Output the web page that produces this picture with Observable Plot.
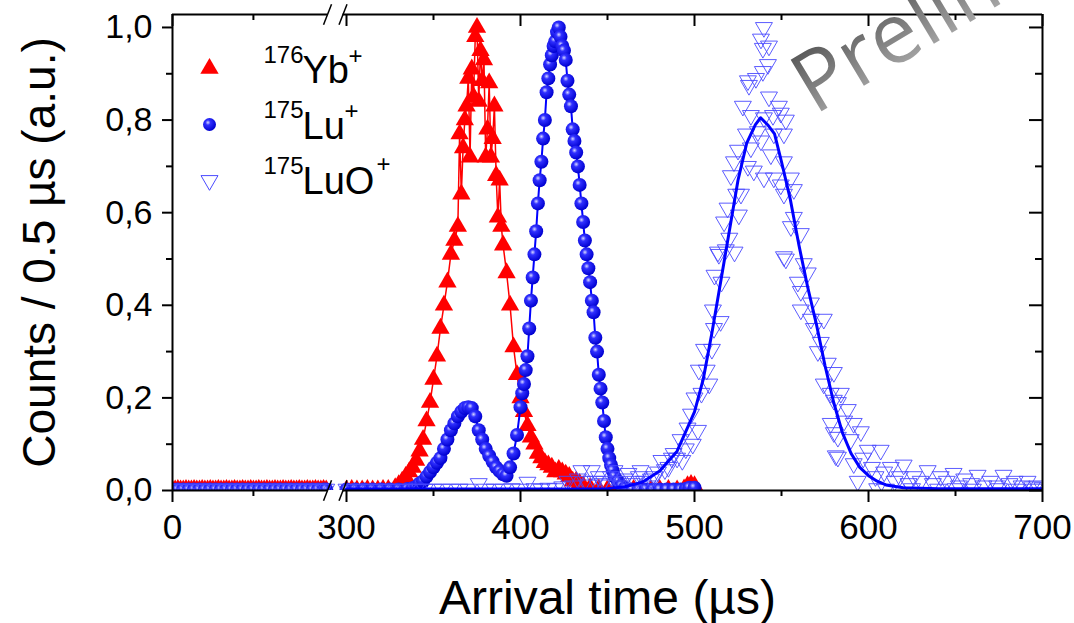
<!DOCTYPE html>
<html><head><meta charset="utf-8">
<script src="https://cdn.jsdelivr.net/npm/d3@7"></script>
<script src="https://cdn.jsdelivr.net/npm/@observablehq/plot@0.6"></script>
<style>
html,body{margin:0;padding:0;background:#fff;}
#chart{position:relative;width:1074px;height:623px;overflow:hidden;}
</style></head><body><div id="chart"></div>
<script>
// ---- data: [arrival time (µs), counts (a.u.)] ----
const ybData = [
 [0,.001],[5,.001],[10,.002],[15,.001],[20,.001],[25,.002],[30,.001],[35,.001],[40,.002],[45,.001],[50,.001],[55,.002],[60,.001],[65,.001],[70,.002],[75,.001],[80,.001],[85,.002],[90,.001],[95,.001],[100,.002],[105,.001],[110,.001],[115,.002],[120,.001],[125,.001],[130,.002],[135,.001],[140,.001],[145,.002],[150,.001],[155,.001],[160,.002],[165,.001],[170,.001],[175,.002],[180,.001],[185,.001],[190,.002],[195,.001],[200,.001],[205,.002],[210,.001],[215,.001],[220,.002],[225,.001],[230,.001],[235,.002],[240,.001],[245,.001],[250,.002],[255,.001],[260,.001],[265,.002],[270,.001],[275,.001],[280,.002],[285,.001],
 [300,.001],[303,.002],[306,.001],[309,.001],[312,.002],[315,.001],[318,.001],[321,.002],[324,.002],[328,.006],[330,.012],[332,.02],[334,.03],[336,.04],[338,.05],[340,.065],[342,.085],[344,.11],[346,.15],[348,.19],[350,.24],[352,.29],[354,.35],[356,.40],[358,.45],[360,.51],[362,.54],[364,.57],[365,.77],[366,.64],[367,.74],[368,.80],[369,.83],[370,.89],[371,.72],[372,.91],[373,.85],[374,.98],[375,1.0],[376,.84],[377,.95],[378,.885],[379,.93],[380,.72],[381,.78],[382,.88],[383,.72],[384,.76],[385,.83],[386,.68],[387,.59],[388,.67],[389,.57],[390,.53],[392,.47],[394,.40],[396,.31],[398,.25],[400,.20],[402,.17],[404,.14],[406,.115],[408,.10],[410,.08],[412,.07],[414,.06],[416,.055],[418,.05],[420,.04],[422,.045],[424,.04],[426,.035],[428,.03],[430,.02],[432,.02],[434,.015],[436,.01],[440,.006],[445,.003],[450,.002],[455,.002],[460,.001],[465,.002],[470,.002],[475,.001],[480,.002],[485,.002],[490,.001],[494,.003],[496,.01],[498,.013],[500,.01]
];
const luData = [
 [0,.002],[10,.002],[20,.002],[30,.002],[40,.002],[50,.002],[60,.002],[70,.002],[80,.002],[90,.002],[100,.002],[110,.002],[120,.002],[130,.002],[140,.002],[150,.002],[160,.002],[170,.002],[180,.002],[190,.002],[200,.002],[210,.002],[220,.002],[230,.002],[240,.002],[250,.002],[260,.002],[270,.002],[280,.002],[285,.002],
 [300,.002],[305,.002],[310,.002],[315,.002],[320,.002],[325,.002],[330,.002],[335,.003],[338,.005],[340,.008],[342,.015],[344,.02],[346,.03],[348,.04],[350,.05],[352,.06],[354,.07],[356,.09],[358,.11],[360,.13],[362,.145],[364,.16],[366,.17],[368,.178],[370,.18],[372,.178],[374,.16],[376,.13],[378,.11],[380,.09],[382,.075],[384,.062],[386,.05],[388,.042],[390,.035],[392,.032],[394,.05],[396,.08],[398,.12],[400,.18],[401,.21],[402,.23],[403,.26],[404,.29],[405,.35],[406,.41],[407,.46],[408,.51],[409,.56],[410,.62],[411,.67],[412,.71],[413,.76],[414,.80],[415,.86],[416,.89],[417,.92],[418,.94],[419,.96],[420,.97],[421,.99],[422,1.0],[423,.98],[424,.96],[425,.95],[426,.93],[427,.885],[428,.855],[429,.83],[430,.78],[431,.755],[432,.73],[433,.70],[434,.66],[435,.62],[436,.58],[437,.54],[438,.51],[439,.48],[440,.45],[441,.41],[442,.385],[443,.33],[444,.30],[445,.25],[446,.22],[447,.19],[448,.15],[449,.115],[450,.09],[451,.07],[452,.055],[453,.043],[454,.03],[456,.02],[458,.01],[460,.005],[464,.002],[468,.002],[472,.002],[476,.002],[480,.002],[484,.002],[488,.002],[492,.002],[495,.003],[497,.006],[500,.006]
];
const luoData = [
 [0,.003],[10,.003],[20,.003],[30,.003],[40,.003],[50,.003],[60,.003],[70,.003],[80,.003],[90,.003],[100,.003],[110,.003],[120,.003],[130,.003],[140,.003],[150,.003],[160,.003],[170,.003],[180,.003],[190,.003],[200,.003],[210,.003],[220,.003],[230,.003],[240,.003],[250,.003],[260,.003],[270,.003],[280,.003],[285,.003],
 [300,.003],[305,.003],[310,.003],[315,.003],[320,.003],[325,.003],[330,.003],[335,.003],[340,.003],[345,.003],[350,.003],[355,.003],[360,.003],[365,.003],[370,.003],[376,.015],[380,.003],[385,.003],[390,.003],[395,.004],[400,.003],[404,.018],[408,.004],[412,.003],[416,.005],[420,.004],
 [424,.008],[427,.02],[430,.01],[433,.025],[435,.043],[437,.02],[439,.012],[441,.043],[443,.02],[445,.03],[447,.015],[448,.02],[450,.012],[452,.03],[454,.043],[456,.02],[458,.01],[460,.025],[462,.037],[464,.015],[466,.02],[468,.03],[469,.043],[471,.02],[473,.01],[475,.025],[477,.03],[479,.04],[481,.065],[483,.045],[485,.05],[487,.07],[488,.08],[490,.07],[492,.11],[493,.065],[495,.09],[496,.135],[498,.165],[499,.10],[500,.20],[502,.13],[502.5,.26],[504,.21],[505.5,.305],[507,.26],[508.5,.23],[510,.305],[510.6,.39],[511.2,.35],[511.5,.465],[513.5,.515],[514,.51],[515,.365],[515.5,.45],[517,.58],[518,.52],[519,.61],[520,.545],[520.9,.68],[522.7,.71],[523,.515],[524,.64],[525,.735],[525.5,.595],[526.7,.64],[527.8,.83],[529.6,.77],[530.7,.885],[530.7,.70],[531.3,.875],[532.4,.81],[532.4,.74],[534.1,.69],[535.3,.89],[536.4,.775],[538.2,.975],[538.2,.755],[539.3,.955],[539.3,.905],[539.9,1.0],[539.9,.805],[539.9,.675],[542.2,.92],[542.8,.96],[542.8,.85],[543.9,.725],[545.1,.81],[545.6,.77],[545.6,.675],[548.5,.83],[549.6,.815],[549.6,.66],[551.4,.77],[551.4,.71],[551.4,.64],[551.4,.505],[552.5,.80],[552.5,.50],[555.4,.675],[555.4,.57],[557.1,.65],[557.1,.59],[559.4,.45],[561.1,.555],[561.1,.43],[561.1,.39],[562.8,.49],[565.1,.47],[566.9,.405],[566.9,.37],[568.6,.35],[570.9,.30],[572.6,.32],[574.3,.37],[574.3,.23],[576.6,.275],[578.3,.21],[578.3,.145],[580.1,.255],[580.1,.195],[580.1,.125],[581.2,.075],[582.4,.19],[582.4,.115],[582.4,.072],[584.1,.21],[586,.15],[588.1,.175],[589.8,.11],[591.5,.145],[591.5,.058],[593.8,.02],[595.6,.127],[597,.07],[599.6,.087],[602,.05],[604,.03],[607,.087],[609,.04],[612.8,.05],[615,.02],[618,.03],[620.2,.055],[623,.015],[626,.03],[630,.02],[634,.043],[637,.015],[641.5,.03],[645,.02],[648.9,.037],[652,.01],[655,.025],[659,.015],[662.7,.033],[666,.01],[670,.02],[674,.01],[677.6,.033],[681,.015],[684,.02],[688,.01],[691.4,.02],[694,.008],[697,.01],[700,.006],
 [605,.004],[610,.003],[625,.004],[640,.003],[650,.004],[660,.003],[675,.004],[685,.003],[695,.003]
];
const luoFit = [
 [300,.003],[440,.003],[450,.004],[460,.008],[470,.018],[480,.042],[490,.085],[500,.17],[505,.24],[510,.34],[515,.45],[520,.56],[525,.67],[530,.75],[535,.79],[538,.805],[542,.79],[546,.77],[550,.71],[555,.63],[560,.53],[565,.44],[570,.36],[575,.27],[580,.19],[585,.125],[590,.08],[595,.05],[600,.032],[605,.02],[610,.012],[620,.006],[640,.004],[700,.004]
];
const xMajorTicks = [0, 300, 400, 500, 600, 700];
const xMinorTicks = [150, 350, 450, 550, 650];
const yMajorTicks = [0, 0.2, 0.4, 0.6, 0.8, 1.0];
const yMinorTicks = [0.1, 0.3, 0.5, 0.7, 0.9];
const legendSup = ["176", "175", "175"];
const legendName = ["Yb", "Lu", "LuO"];

// ---- broken x axis: 0–290 compressed, 300–700 linear ----
const brk = t => t < 295 ? 200 + t * 0.31 : t;
const unbrk = u => u < 295 ? Math.round((u - 200) / 0.31) : u;
const rows = arr => arr.map(([t, v]) => ({u: brk(t), v, seg: t < 295 ? 1 : 2}));
const yb = rows(ybData), lu = rows(luData), luo = rows(luoData), fit = rows(luoFit);
const yTop = 1.028;
const breakU = [289.1, 298];
const frameSegs = [
  {x1: 200, x2: breakU[0], y: 0}, {x1: breakU[1], x2: 700, y: 0},
  {x1: 200, x2: breakU[0], y: yTop}, {x1: breakU[1], x2: 700, y: yTop}
];
const breakMarks = [];
for (const b of breakU) for (const yy of [0, yTop]) breakMarks.push({b, yy});

const luoStroke = "#4a4aff";
const fmtY = d => d.toFixed(1).replace(".", ",");
const legendRows = [
  {sym: {symbol: "triangle", r: 6.8, fill: "#ff0000", stroke: "none"}, dy: 54, supDy: 48, nameDy: 68, plusDx: 176, plusDy: 49},
  {sym: {symbol: "circle", r: 6.5, fill: "url(#luSphere)", stroke: "none"}, dy: 110, supDy: 103, nameDy: 124, plusDx: 172, plusDy: 104},
  {sym: {symbol: "triangle", r: 6.3, fill: "none", stroke: luoStroke, strokeWidth: 1, rotate: 180}, dy: 166, supDy: 159, nameDy: 179, plusDx: 204, plusDy: 157}
];
const legendMarks = [];
legendRows.forEach((row, i) => {
  legendMarks.push(Plot.dot([0], {x: null, y: null, frameAnchor: "top-left", dx: 37, dy: row.dy, ...row.sym}));
  legendMarks.push(Plot.text([legendSup[i]], {text: d => d, frameAnchor: "top-left", dx: 91, dy: row.supDy, textAnchor: "start", lineAnchor: "bottom", fontSize: 24}));
  legendMarks.push(Plot.text([legendName[i]], {text: d => d, frameAnchor: "top-left", dx: 130, dy: row.nameDy, textAnchor: "start", lineAnchor: "bottom", fontSize: 38}));
  legendMarks.push(Plot.text(["+"], {text: d => d, frameAnchor: "top-left", dx: row.plusDx, dy: row.plusDy, textAnchor: "start", lineAnchor: "bottom", fontSize: 24}));
});

const chart = Plot.plot({
  width: 1074, height: 623,
  marginLeft: 172, marginRight: 32, marginTop: 14, marginBottom: 133,
  x: {domain: [200, 700], axis: null},
  y: {domain: [0, yTop], axis: null},
  style: {fontFamily: "'Liberation Sans', Arial, sans-serif", fontSize: "34px", color: "#000", background: "#fff"},
  marks: [
    // data
    Plot.line(yb, {x: "u", y: "v", z: "seg", stroke: "#ff0000", strokeWidth: 1.5, clip: "frame"}),
    Plot.dot(yb, {x: "u", y: "v", symbol: "triangle", r: 6.8, fill: "#ff0000", stroke: "none", clip: "frame"}),
    Plot.line(lu, {x: "u", y: "v", z: "seg", stroke: "#0000ff", strokeWidth: 2, clip: "frame"}),
    Plot.dot(lu, {x: "u", y: "v", symbol: "circle", r: 7, fill: "url(#luSphere)", stroke: "none", clip: "frame"}),
    Plot.dot(luo, {x: "u", y: "v", symbol: "triangle", r: 6.3, rotate: 180, fill: "none", stroke: luoStroke, strokeWidth: 0.9, clip: "frame"}),
    Plot.line(fit, {x: "u", y: "v", z: "seg", stroke: "#0000ff", strokeWidth: 3, clip: "frame"}),
    // frame with axis break
    Plot.ruleY(frameSegs, {y: "y", x1: "x1", x2: "x2", stroke: "#000", strokeWidth: 2}),
    Plot.ruleX([200, 700], {x: d => d, y1: () => 0, y2: () => yTop, stroke: "#000", strokeWidth: 2}),
    Plot.link(breakMarks, {x1: d => d.b - 2.3, x2: d => d.b + 2.3, y1: d => d.yy - 0.022, y2: d => d.yy + 0.022, stroke: "#000", strokeWidth: 1.5}),
    // axes
    Plot.axisX(xMajorTicks.map(brk), {anchor: "bottom", tickSize: 12, tickPadding: 12, tickFormat: u => String(unbrk(u)), label: null, strokeWidth: 2, fontSize: 35}),
    Plot.axisX(xMinorTicks.map(brk), {anchor: "bottom", tickSize: 6, tickFormat: () => "", label: null, strokeWidth: 2}),
    Plot.axisX(xMajorTicks.map(brk), {anchor: "bottom", frameAnchor: "top", tickSize: 12, tickFormat: () => "", label: null, strokeWidth: 2}),
    Plot.axisX(xMinorTicks.map(brk), {anchor: "bottom", frameAnchor: "top", tickSize: 6, tickFormat: () => "", label: null, strokeWidth: 2}),
    Plot.axisY(yMajorTicks, {anchor: "left", tickSize: 10, tickPadding: 10, tickFormat: fmtY, label: null, strokeWidth: 2, fontSize: 34}),
    Plot.axisY(yMinorTicks, {anchor: "left", tickSize: 6, tickFormat: () => "", label: null, strokeWidth: 2}),
    Plot.axisY(yMajorTicks, {anchor: "left", frameAnchor: "right", tickSize: 13, tickFormat: () => "", label: null, strokeWidth: 2}),
    Plot.axisY(yMinorTicks, {anchor: "left", frameAnchor: "right", tickSize: 7, tickFormat: () => "", label: null, strokeWidth: 2}),
    // titles
    Plot.text(["Arrival time (µs)"], {text: d => d, frameAnchor: "bottom", dy: 123, lineAnchor: "bottom", textAnchor: "middle", fontSize: 48}),
    Plot.text(["Counts / 0.5 µs (a.u.)"], {text: d => d, frameAnchor: "left", dx: -132, rotate: -90, lineAnchor: "middle", textAnchor: "middle", fontSize: 46}),
    // legend
    ...legendMarks,
    // watermark
    Plot.text(["Preliminary"], {text: d => d, frameAnchor: "top-left", dx: 642, dy: 101, rotate: -31, textAnchor: "start", lineAnchor: "bottom", fontSize: 84, fontFamily: "'Open Sans', sans-serif", fill: "url(#wmGrad)"})
  ]
});

const defs = d3.select(chart).insert("defs", ":first-child");
const rg = defs.append("radialGradient").attr("id", "luSphere").attr("cx", "38%").attr("cy", "35%").attr("r", "65%");
rg.append("stop").attr("offset", "0%").attr("stop-color", "#d8d8ff");
rg.append("stop").attr("offset", "30%").attr("stop-color", "#3030ff");
rg.append("stop").attr("offset", "100%").attr("stop-color", "#0000d0");
const lg = defs.append("linearGradient").attr("id", "wmGrad").attr("x1", "0").attr("y1", "0").attr("x2", "0.2").attr("y2", "1");
lg.append("stop").attr("offset", "0%").attr("stop-color", "#3c3c3c");
lg.append("stop").attr("offset", "100%").attr("stop-color", "#b8b8b8");

document.getElementById("chart").appendChild(chart);
</script></body></html>
